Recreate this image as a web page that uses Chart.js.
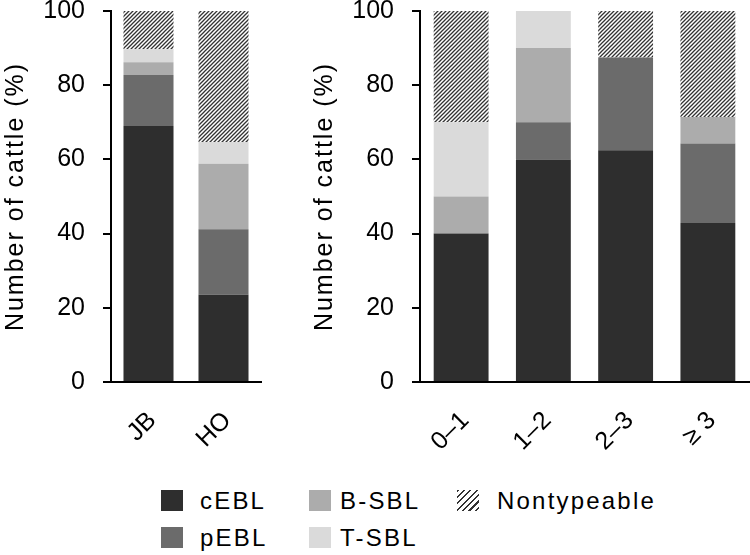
<!DOCTYPE html>
<html>
<head>
<meta charset="utf-8">
<script src="https://cdn.jsdelivr.net/npm/chart.js@4"></script>
<style>
  body { margin: 0; background: #fff; width: 750px; height: 555px; position: relative; overflow: hidden;
         font-family: "Liberation Sans", Arial, sans-serif; }
  canvas { position: absolute; top: 0; }
  #left { left: 0; }
  #right { left: 309px; }
  .lg-text { position: absolute; font-size: 24px; letter-spacing: 2.2px; color: #000; line-height: 1; }
  .lg-box { position: absolute; width: 22px; height: 21px; }
</style>
</head>
<body>
<canvas id="left" width="270" height="470"></canvas>
<canvas id="right" width="441" height="470"></canvas>
<div id="legend"></div>
<script>
const typeNames = ['cEBL', 'pEBL', 'B-SBL', 'T-SBL', 'Nontypeable'];
const typeColors = ['#2e2e2e', '#6b6b6b', '#acacac', '#dadada', 'hatch'];

// breed (JB n=29, HO n=17), % of cattle
const breedLabels = ['JB', 'HO'];
const breedCEBL = [68.97, 23.53];
const breedPEBL = [13.79, 17.65];
const breedBSBL = [3.45, 17.65];
const breedTSBL = [3.45, 5.88];
const breedNon = [10.34, 35.29];

// age in years, % of cattle
const ageLabels = ['0–1', '1–2', '2–3', '≥ 3'];
const ageCEBL = [40, 60, 62.5, 42.86];
const agePEBL = [0, 10, 25, 21.43];
const ageBSBL = [10, 20, 0, 7.14];
const ageTSBL = [20, 10, 0, 0];
const ageNon = [30, 0, 12.5, 28.57];

const yTitle = 'Number of cattle (%)';

Chart.defaults.font.family = '"Liberation Sans", Arial, sans-serif';
Chart.defaults.color = '#000';

function makeHatch() {
    let c = document.createElement('canvas');
    c.width = 4;
    c.height = 4;
    let g = c.getContext('2d');
    g.fillStyle = '#fff';
    g.fillRect(0, 0, 4, 4);
    g.strokeStyle = '#333';
    g.lineWidth = 1.3;
    g.beginPath();
    g.moveTo(0, 4); g.lineTo(4, 0);
    g.moveTo(-1, 1); g.lineTo(1, -1);
    g.moveTo(3, 5); g.lineTo(5, 3);
    g.stroke();
    return g.createPattern(c, 'repeat');
}

const hatch = makeHatch();

// y title is drawn with wider tracking, like the original figure
const spacedTitle = {
    id: 'spacedTitle',
    beforeDraw(chart) {
        let s = chart.scales.y;
        if (s._spaced) return;
        let orig = s.drawTitle;
        s.drawTitle = function () {
            chart.ctx.letterSpacing = '2px';
            orig.apply(s, arguments);
            chart.ctx.letterSpacing = '0px';
        };
        s._spaced = true;
    }
};

function makeChart(id, labels, series, padRight) {
    let datasets = series.map(function (vals, i) {
        return {
            label: typeNames[i],
            data: vals,
            backgroundColor: typeColors[i] === 'hatch' ? hatch : typeColors[i],
            borderWidth: 0,
            categoryPercentage: 0.667,
            barPercentage: 1
        };
    });
    return new Chart(document.getElementById(id), {
        type: 'bar',
        data: { labels: labels, datasets: datasets },
        options: {
            responsive: false,
            animation: false,
            layout: { padding: { top: 11, right: padRight, left: 0, bottom: 0 } },
            plugins: { legend: { display: false }, tooltip: { enabled: false } },
            scales: {
                x: {
                    stacked: true,
                    grid: { display: false },
                    border: { display: true, color: '#000', width: 2 },
                    ticks: { color: '#000', font: { size: 25 }, minRotation: 45, maxRotation: 45, padding: 16, labelOffset: 4 },
                    afterFit: function (s) { s.height = 88; }
                },
                y: {
                    stacked: true,
                    min: 0,
                    max: 100,
                    ticks: { stepSize: 20, color: '#000', font: { size: 25 }, padding: 18 },
                    grid: { drawOnChartArea: false, color: '#000', lineWidth: 2, tickLength: 8 },
                    border: { color: '#000', width: 2 },
                    title: { display: true, text: yTitle, color: '#000', font: { size: 25 }, padding: { top: 1, bottom: 0 } },
                    afterFit: function (s) {
                        s.width = 111;
                        // ticks padding would otherwise push the plot top down
                        s.paddingTop = 0;
                        s.paddingBottom = 0;
                    }
                }
            }
        },
        plugins: [spacedTitle]
    });
}

makeChart('left', breedLabels, [breedCEBL, breedPEBL, breedBSBL, breedTSBL, breedNon], 9);
makeChart('right', ageLabels, [ageCEBL, agePEBL, ageBSBL, ageTSBL, ageNon], 1);

// legend: two rows, three columns (cEBL/pEBL, B-SBL/T-SBL, Nontypeable)
const legendPos = [[161, 490, 200], [161, 527, 200], [309, 490, 340], [309, 527, 340], [457, 490, 497]];
let elLegend = document.getElementById('legend');
typeNames.forEach(function (name, i) {
    let box = document.createElement('div');
    box.className = 'lg-box';
    box.style.left = legendPos[i][0] + 'px';
    box.style.top = legendPos[i][1] + 'px';
    if (typeColors[i] === 'hatch') {
        box.style.background = 'repeating-linear-gradient(135deg, #333 0 1.6px, #fff 1.6px 4.5px)';
    } else {
        box.style.background = typeColors[i];
    }
    let txt = document.createElement('div');
    txt.className = 'lg-text';
    txt.textContent = name;
    txt.style.left = legendPos[i][2] + 'px';
    txt.style.top = (legendPos[i][1] - 1) + 'px';
    elLegend.appendChild(box);
    elLegend.appendChild(txt);
});
</script>
</body>
</html>
